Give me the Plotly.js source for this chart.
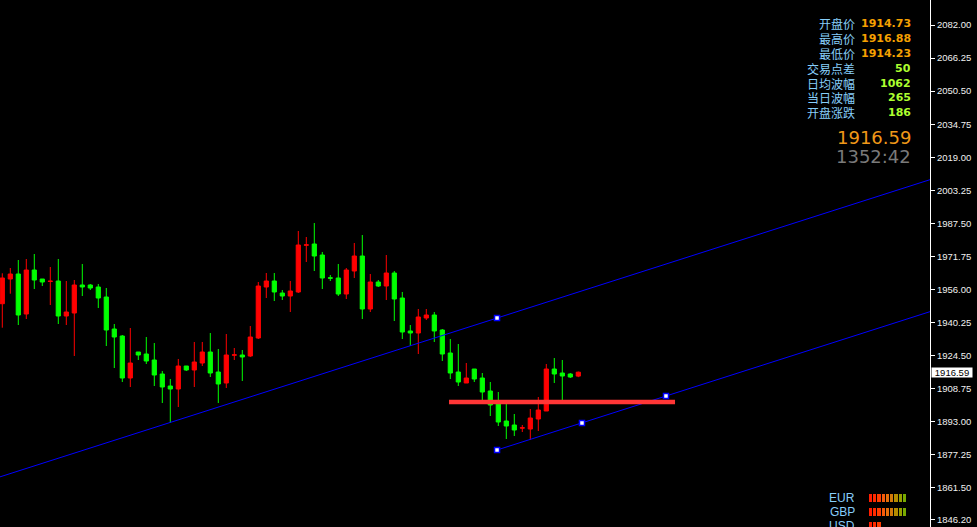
<!DOCTYPE html>
<html><head><meta charset="utf-8">
<script src="https://cdn.plot.ly/plotly-3.0.1.min.js"></script>
<style>html,body{margin:0;padding:0;background:#000;overflow:hidden}#chart{width:977px;height:527px}</style>
</head><body><div id="chart"></div>
<script>
// ---- candle data (bar index, OHLC) ----
const opens = [1949.22,1960.99,1963.37,1944.31,1965.28,1960.99,1959.80,1960.04,1943.36,1944.79,
1958.13,1958.13,1957.18,1952.41,1937.17,1933.83,1913.82,1926.21,1925.26,1922.40,
1915.73,1910.01,1908.58,1919.54,1917.64,1920.97,1926.21,1916.68,1911.44,1924.70,
1924.78,1924.31,1932.88,1957.18,1960.04,1954.32,1952.89,1954.80,1977.10,1977.66,
1972.42,1961.55,1961.47,1953.84,1964.80,1971.95,1946.70,1959.56,1957.65,1963.85,
1951.94,1936.22,1935.26,1942.41,1943.84,1936.69,1925.73,1916.68,1911.44,1918.11,
1913.82,1907.63,1901.44,1893.34,1891.43,1889.95,1889.53,1894.29,1898.10,1918.11,
1916.21,1915.73,1914.73];
const highs = [1963.71,1966.23,1970.04,1970.52,1972.90,1960.99,1966.71,1970.52,1960.04,1960.51,
1968.14,1958.61,1958.61,1956.70,1939.55,1934.31,1937.64,1926.21,1933.36,1930.50,
1917.16,1913.35,1922.88,1919.54,1930.98,1930.98,1935.26,1927.64,1934.79,1928.12,
1927.16,1938.60,1959.56,1963.85,1963.85,1955.75,1960.04,1983.86,1981.00,1987.67,
1973.85,1962.89,1968.14,1966.23,1978.14,1981.95,1963.37,1960.51,1972.42,1964.80,
1954.80,1939.07,1946.70,1946.70,1945.27,1937.17,1932.40,1930.02,1920.97,1918.11,
1916.21,1911.92,1907.15,1901.44,1896.67,1891.43,1899.05,1904.77,1920.49,1923.35,
1922.40,1916.21,1916.88];
const lows = [1937.79,1953.99,1939.07,1941.93,1956.22,1957.65,1948.60,1939.55,1939.07,1924.31,
1952.89,1955.75,1947.17,1929.07,1918.59,1911.92,1909.54,1922.40,1920.49,1910.01,
1901.91,1892.38,1900.01,1917.16,1909.54,1919.54,1914.30,1901.91,1909.06,1922.40,
1912.40,1923.83,1932.40,1951.94,1950.51,1950.98,1945.27,1954.32,1969.09,1964.80,
1956.22,1960.04,1952.89,1951.46,1961.47,1941.93,1945.27,1957.18,1950.98,1940.98,
1932.40,1929.07,1925.26,1941.46,1930.98,1921.92,1913.35,1910.01,1911.44,1911.92,
1903.34,1895.72,1890.96,1884.76,1886.20,1888.10,1884.29,1888.57,1898.10,1911.44,
1903.34,1913.82,1914.23];
const closes = [1961.47,1963.37,1943.84,1965.28,1960.51,1959.56,1959.95,1943.36,1945.27,1958.13,
1957.18,1956.70,1951.94,1936.69,1933.36,1913.82,1920.97,1924.78,1921.92,1915.25,
1909.54,1908.58,1919.54,1917.64,1921.45,1926.21,1916.21,1910.97,1924.78,1924.85,
1923.83,1933.36,1957.65,1960.04,1954.80,1952.89,1955.27,1977.19,1977.25,1971.95,
1961.47,1961.40,1953.84,1965.28,1971.95,1946.70,1959.56,1957.65,1963.85,1951.46,
1935.74,1935.26,1942.89,1943.84,1936.22,1925.26,1916.21,1911.92,1913.82,1913.35,
1907.15,1900.96,1892.86,1890.96,1889.05,1890.10,1894.77,1898.58,1918.11,1915.73,
1914.78,1914.30,1916.59];
const barIndex = opens.map((_, i) => i);

// ---- drawn objects ----
const upperChannelX = [-1, 117];
const upperChannelY = [1865.86, 2009.58];
const lowerChannelX = [61.84, 117];
const lowerChannelY = [1879.52, 1946.70];
const anchorX = [61.84, 61.84, 72.46, 82.96];
const anchorY = [1942.41, 1879.52, 1892.39, 1905.25];
const levelX = [55.84, 84.09];
const levelY = [1902.39, 1902.39];

// ---- axis ticks ----
const yTickVals = [2082.00,2066.25,2050.50,2034.75,2019.00,2003.25,1987.50,1971.75,1956.00,1940.25,1924.50,1908.75,1893.00,1877.25,1861.50,1846.20];
const yTickText = ["2082.00","2066.25","2050.50","2034.75","2019.00","2003.25","1987.50","1971.75","1956.00","1940.25","1924.50","1908.75","1893.00","1877.25","1861.50","1846.20"];
const lastPrice = 1916.59;
const lastPriceText = "1916.59";

// ---- info panel ----
const infoLabels = ["开盘价","最高价","最低价","交易点差","日均波幅","当日波幅","开盘涨跌"];
const infoValues = ["1914.73","1916.88","1914.23","50","1062","265","186"];
const bigPriceText = "1916.59";
const timerText = "1352:42";

// ---- currency strength ----
const currencies = ["EUR","GBP","USD"];
const strengths = [9, 9, 3];
const segColors = ["#ff1e00","#ff2a00","#ff3c00","#f55a0a","#e66e0a","#d27a0a","#b48c00","#96a000","#78aa00"];

const W = 977, H = 527, R = 47;
const plotW = W - R;
const px2paperX = px => px / plotW;
const px2paperY = py => 1 - py / H;

const traces = [];
traces.push({
  type: 'candlestick', x: barIndex, open: opens, high: highs, low: lows, close: closes,
  increasing: {line: {color: '#ff0000', width: 1}, fillcolor: '#ff0000'},
  decreasing: {line: {color: '#00ff00', width: 1}, fillcolor: '#00ff00'},
  whiskerwidth: 0, hoverinfo: 'skip', showlegend: false
});
traces.push({type: 'scatter', mode: 'lines', x: upperChannelX, y: upperChannelY,
  line: {color: '#0000ff', width: 1}, hoverinfo: 'skip', showlegend: false});
traces.push({type: 'scatter', mode: 'lines', x: lowerChannelX, y: lowerChannelY,
  line: {color: '#0000ff', width: 1}, hoverinfo: 'skip', showlegend: false});
traces.push({type: 'scatter', mode: 'lines', x: levelX, y: levelY,
  line: {color: '#ff3636', width: 4.5}, hoverinfo: 'skip', showlegend: false});
traces.push({type: 'scatter', mode: 'markers', x: anchorX, y: anchorY,
  marker: {symbol: 'square', size: 5, color: '#ffffff', line: {color: '#0000ff', width: 1.5}},
  hoverinfo: 'skip', showlegend: false});

// strength heatmap
const zRows = strengths.map(s => segColors.map((c, j) => j < s ? j : null));
const cs = segColors.map((c, j) => [j / (segColors.length - 1), c]);
traces.push({type: 'heatmap', x: segColors.map((c, j) => j), y: currencies, z: zRows,
  colorscale: cs, zmin: 0, zmax: segColors.length - 1, showscale: false,
  xgap: 1, ygap: 6, xaxis: 'x2', yaxis: 'y2', hoverinfo: 'skip'});

const annotations = [];
const rowY0 = 24, rowStep = 14.8;
infoLabels.forEach((lab, i) => {
  const py = rowY0 + rowStep * i;
  annotations.push({xref: 'paper', yref: 'paper', x: px2paperX(856), y: px2paperY(py),
    xanchor: 'right', yanchor: 'middle', showarrow: false, text: lab, height: 14.5, borderpad: 0,
    font: {family: 'Noto Sans CJK SC', size: 12, color: '#87cefa'}});
  annotations.push({xref: 'paper', yref: 'paper', x: px2paperX(912), y: px2paperY(py),
    xanchor: 'right', yanchor: 'middle', showarrow: false, text: infoValues[i], height: 14.5, borderpad: 0,
    font: {family: 'DejaVu Sans', size: 11, weight: 'bold', color: i < 3 ? '#f5a000' : '#adff2f'}});
});
annotations.push({xref: 'paper', yref: 'paper', x: px2paperX(912), y: px2paperY(137),
  xanchor: 'right', yanchor: 'middle', showarrow: false, text: bigPriceText, height: 19, borderpad: 0,
  font: {family: 'DejaVu Sans', size: 18, color: '#f09818'}});
annotations.push({xref: 'paper', yref: 'paper', x: px2paperX(912), y: px2paperY(157),
  xanchor: 'right', yanchor: 'middle', showarrow: false, text: timerText, height: 19, borderpad: 0,
  font: {family: 'DejaVu Sans', size: 18, color: '#7a7a7a'}});
currencies.forEach((c, i) => {
  annotations.push({xref: 'paper', yref: 'y2', x: px2paperX(856), y: c,
    xanchor: 'right', yanchor: 'middle', showarrow: false, text: c, height: 13.5, borderpad: 0,
    font: {family: 'Liberation Sans', size: 12, color: '#87cefa'}});
});
annotations.push({xref: 'paper', yref: 'y', x: 1, xshift: 1, y: lastPrice,
  xanchor: 'left', yanchor: 'middle', showarrow: false, text: lastPriceText,
  bgcolor: '#ffffff', borderpad: 0.5, width: 39, height: 8, align: 'center',
  font: {family: 'Liberation Sans', size: 9.5, color: '#000000'}});

const layout = {
  width: W, height: H,
  margin: {l: 0, r: R, t: 0, b: 0, pad: 0},
  paper_bgcolor: '#000000', plot_bgcolor: '#000000',
  showlegend: false, boxgap: 0.25, boxgroupgap: 0.3,
  xaxis: {range: [-0.2875, 115.96], visible: false, rangeslider: {visible: false}, fixedrange: true},
  yaxis: {range: [1842.84, 2093.91], side: 'right', showgrid: false, zeroline: false,
    showline: true, linecolor: '#ffffff', linewidth: 1,
    ticks: 'outside', ticklen: 4, tickcolor: '#ffffff', tickwidth: 1,
    tickmode: 'array', tickvals: yTickVals, ticktext: yTickText,
    tickfont: {family: 'Liberation Sans', size: 9.5, color: '#f0f0f0'}, fixedrange: true},
  xaxis2: {domain: [px2paperX(869), px2paperX(907)], anchor: 'y2', range: [-0.5, 8.5], visible: false},
  yaxis2: {domain: [0, 40 / H], anchor: 'x2', type: 'category', range: [2.071, -0.786], visible: false},
  annotations: annotations
};

Plotly.newPlot('chart', traces, layout, {staticPlot: true, displayModeBar: false});
</script>
</body></html>
